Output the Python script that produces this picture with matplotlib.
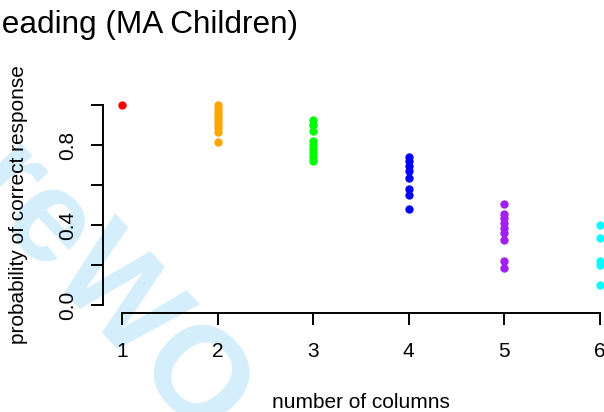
import matplotlib
matplotlib.use("Agg")
import matplotlib.pyplot as plt

plt.rcParams['font.family'] = ['Liberation Sans', 'DejaVu Sans']

# Probability of a correct response per child, grouped by number of columns
columns = [1, 2, 3, 4, 5, 6]
col_colors = ["#FF0000", "#FFA500", "#00FF00", "#0000FF", "#A020F0", "#00FFFF"]
p_col1 = [1.0]
p_col2 = [1.0, 0.983, 0.967, 0.95, 0.933, 0.917, 0.9, 0.883, 0.867, 0.817]
p_col3 = [0.925, 0.9, 0.87, 0.82, 0.80, 0.78, 0.76, 0.74, 0.72]
p_col4 = [0.74, 0.72, 0.695, 0.67, 0.633, 0.578, 0.55, 0.478]
p_col5 = [0.505, 0.455, 0.433, 0.408, 0.383, 0.358, 0.325, 0.222, 0.183]
p_col6 = [0.40, 0.333, 0.222, 0.20, 0.10]
series = [p_col1, p_col2, p_col3, p_col4, p_col5, p_col6]

y_ticks = [0.0, 0.2, 0.4, 0.6, 0.8, 1.0]
y_ticklabels = ["0.0", "", "0.4", "", "0.8", ""]

W, H = 604, 412
fig = plt.figure(figsize=(W / 100, H / 100), dpi=100)

# background watermark
fig.text(-40 / W, 1 - 190 / H, "reWO", rotation=-47, rotation_mode='anchor',
         ha='left', va='baseline', fontsize=95, fontweight='bold',
         color='#D5EEFB', zorder=-5)

ax = fig.add_axes([103 / W, 1 - 313 / H, (619 - 103) / W, (313 - 97) / H])
ax.patch.set_alpha(0)
for x, vals, c in zip(columns, series, col_colors):
    ax.scatter([x] * len(vals), vals, s=36, color=c, linewidths=0, clip_on=False, zorder=3)

ax.set_xlim(0.8, 6.2)
ax.set_ylim(-0.04, 1.04)
ax.spines['top'].set_visible(False)
ax.spines['right'].set_visible(False)
ax.spines['left'].set_bounds(0, 1)
ax.spines['bottom'].set_bounds(1, 6)
for s in ('left', 'bottom'):
    ax.spines[s].set_linewidth(1.4)

ax.set_xticks(columns)
ax.set_xticklabels([str(c) for c in columns])
ax.set_yticks(y_ticks)
ax.set_yticklabels(y_ticklabels, rotation=90, va='center')
ax.tick_params(axis='both', length=8.6, width=1.4, labelsize=15, color='black')
ax.tick_params(axis='x', pad=12)
ax.tick_params(axis='y', pad=10)

fig.text(361 / W, 1 - 407.5 / H, "number of columns", ha='center', va='baseline', fontsize=15)
fig.text(19 / W, 1 - 205 / H, "probability of correct response", rotation=90,
         ha='center', va='center', fontsize=15)
fig.text(298 / W, 1 - 33 / H, "Reading (MA Children)", ha='right', va='baseline', fontsize=22.7)

fig.savefig("out.png", dpi=100)
